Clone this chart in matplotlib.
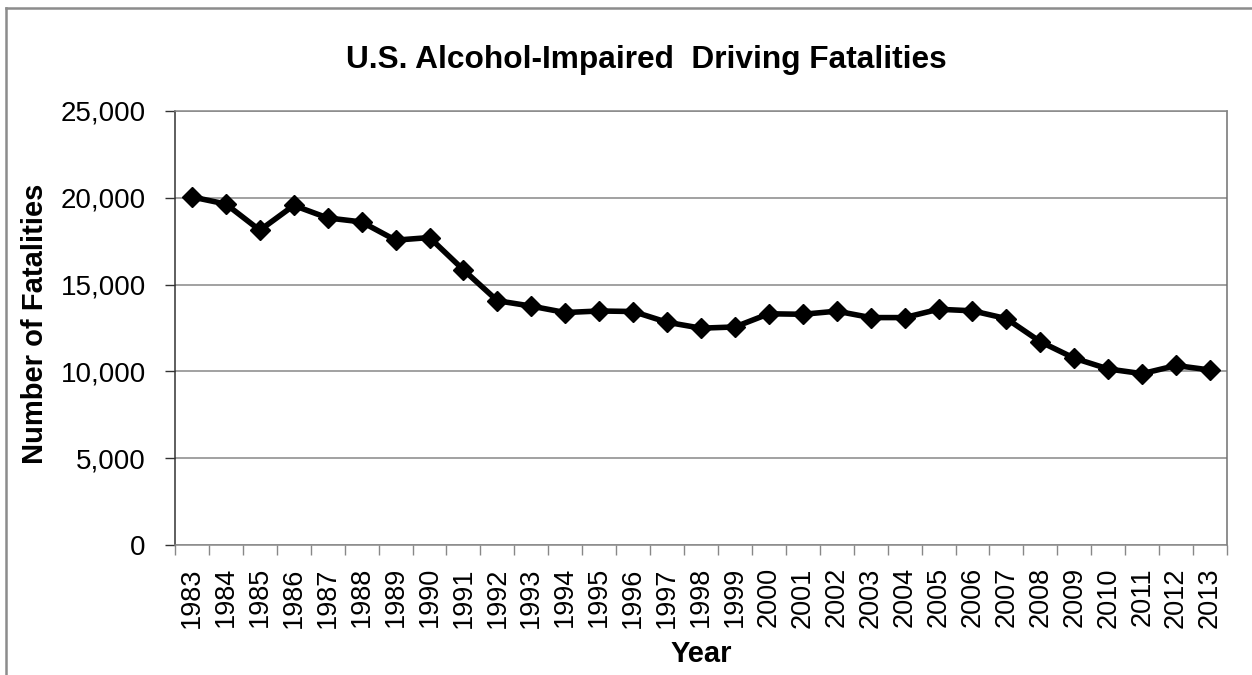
import numpy as np
import matplotlib
matplotlib.use('Agg')
import matplotlib.pyplot as plt
import matplotlib.ticker as ticker
from matplotlib.lines import Line2D

plt.rcParams['font.family'] = ['Liberation Sans', 'DejaVu Sans']

# data
years = list(range(1983, 2014))
fatalities = [20050, 19640, 18130, 19560, 18840, 18610, 17560, 17710, 15850, 14070,
              13760, 13390, 13480, 13450, 12830, 12490, 12560, 13320, 13290, 13470,
              13100, 13100, 13580, 13490, 13040, 11710, 10760, 10140, 9870, 10340, 10080]
yticks = [0, 5000, 10000, 15000, 20000, 25000]

W, H = 1252, 675
fig = plt.figure(figsize=(W / 100, H / 100), dpi=100)
ax = fig.add_axes([175 / W, 1 - 545 / H, (1227 - 175) / W, (545 - 111) / H])

x = np.arange(len(years))
ax.plot(x, fatalities, color='black', linewidth=4, marker='D', markersize=10.5,
        markeredgecolor='black', markerfacecolor='black', zorder=3)

ax.set_xlim(-0.5, len(years) - 0.5)
ax.set_ylim(0, 25000)

# category labels in the middle, tick marks between categories
ax.set_xticks(x)
ax.set_xticklabels([str(y) for y in years], rotation=90, fontsize=19.5)
ax.set_xticks(np.arange(len(years) + 1) - 0.5, minor=True)
ax.tick_params(axis='x', which='major', length=0, pad=16)
ax.tick_params(axis='x', which='minor', length=7, width=1, color='#888888')

ax.set_yticks(yticks)
ax.yaxis.set_major_formatter(ticker.FuncFormatter(lambda v, p: f'{int(v):,}'))
ax.tick_params(axis='y', which='major', length=7, width=1, color='#333333',
               labelsize=20, pad=14)

ax.grid(axis='y', color='#888888', linewidth=1.1)
ax.set_axisbelow(True)

ax.spines['left'].set_color('#333333')
ax.spines['bottom'].set_color('#888888')
ax.spines['right'].set_color('#707070')
ax.spines['top'].set_color('#888888')
for s in ax.spines.values():
    s.set_linewidth(1.1)

fig.text(646 / W, 1 - 60 / H, 'U.S. Alcohol-Impaired  Driving Fatalities',
         ha='center', va='center', fontsize=22.8, fontweight='bold')
fig.text(35 / W, 1 - 324 / H, 'Number of Fatalities', rotation=90,
         ha='center', va='center', fontsize=21, fontweight='bold')
fig.text(701 / W, 1 - 654 / H, 'Year', ha='center', va='center',
         fontsize=21, fontweight='bold')

# outer chart border (only top and left visible in the crop)
fig.add_artist(Line2D([6 / W, 1], [1 - 8 / H, 1 - 8 / H], color='#8c8c8c', linewidth=1.8))
fig.add_artist(Line2D([6 / W, 6 / W], [0, 1 - 8 / H], color='#8c8c8c', linewidth=1.8))

fig.savefig('out.png', dpi=100, facecolor='white')
